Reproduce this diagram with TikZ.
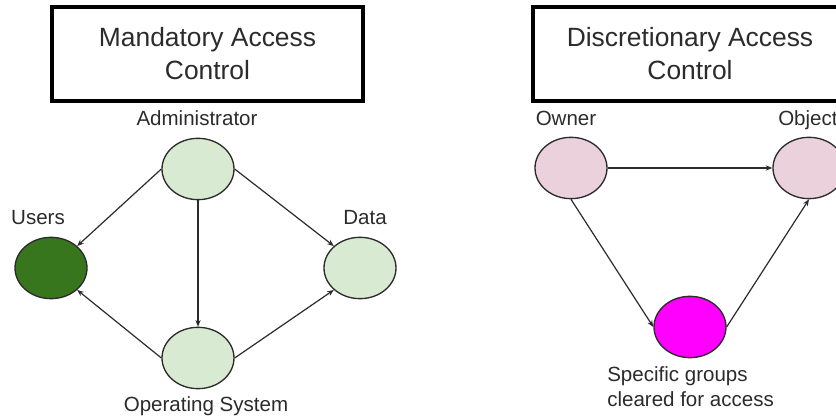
\documentclass[tikz,border=0pt]{standalone}
\usepackage{fontspec}
\setmainfont{Liberation Sans}
\usetikzlibrary{positioning}
\usetikzlibrary{arrows.meta}
\usetikzlibrary{shapes.geometric}
\definecolor{lightgreen}{HTML}{D9EAD3}
\definecolor{darkgreen}{HTML}{38761D}
\definecolor{lightpink}{HTML}{EAD1DC}
\definecolor{brightmagenta}{HTML}{FF00FF}
\definecolor{inkgray}{HTML}{2B2B2B}

\begin{document}
\begin{tikzpicture}[x=0.75pt,y=-0.75pt,
						titlebox/.style={draw=black, line width=3pt, inner sep=0pt, align=center, text=inkgray, font=\fontsize{19.8}{24.75}\selectfont},
						ellnode/.style={ellipse, draw=inkgray, line width=1pt, inner sep=0pt, minimum width=54pt, minimum height=46pt},
						tag/.style={inner sep=0pt, text=inkgray, font=\fontsize{15.4}{18.75}\selectfont},
						arr/.style={draw=inkgray, line width=0.9pt, -{Stealth[length=5pt,width=4pt]}},
						]
						\useasboundingbox (0,0) rectangle (836,416);
						\clip (0,0) rectangle (836,416);
						%Boxes
						\node[titlebox, minimum width=233pt, minimum height=70.5pt] (mac) at (207.5,54) {Mandatory Access\\Control};
						\node[titlebox, minimum width=235.5pt, minimum height=70.5pt] (dac) at (690,54) {Discretionary Access\\Control};
						
						%Nodes
						\node[ellnode, fill=lightgreen]     (admin)  at (198,169) {};
						\node[ellnode, fill=darkgreen]      (users)  at (51,268)  {};
						\node[ellnode, fill=lightgreen]     (data)   at (360,268) {};
						\node[ellnode, fill=lightgreen]     (os)     at (198,358) {};
						\node[ellnode, fill=lightpink]      (owner)  at (571,168) {};
						\node[ellnode, fill=lightpink]      (object) at (809,168) {};
						\node[ellnode, fill=brightmagenta]  (groups) at (690,327) {};
						
						%Labels
						\node[tag, anchor=base]       (adminlabel)  at (197,126) {Administrator};
						\node[tag, anchor=base]       (userslabel)  at (38,225)  {Users};
						\node[tag, anchor=base]       (datalabel)   at (365,225) {Data};
						\node[tag, anchor=base]       (oslabel)     at (206,412) {Operating System};
						\node[tag, anchor=base]       (ownerlabel)  at (566,126) {Owner};
						\node[tag, anchor=base west]  (objectlabel) at (778,126) {Object};
						\node[tag, anchor=north west, align=left] (groupslabel) at (607,366) {Specific groups\\cleared for access};
						
						%Lines
						\draw[arr] (admin.west) -- (users.40);
						\draw[arr] (admin.east) -- (data.140);
						\draw[arr] (admin.south) -- (os.north);
						\draw[arr] (os.west) -- (users.-40);
						\draw[arr] (os.east) -- (data.220);
						
						\draw[arr] (owner.east) -- (object.west);
						\draw[arr] (owner.south) -- (groups.west);
						\draw[arr] (groups.east) -- (object.south);
					\end{tikzpicture}
\end{document}
